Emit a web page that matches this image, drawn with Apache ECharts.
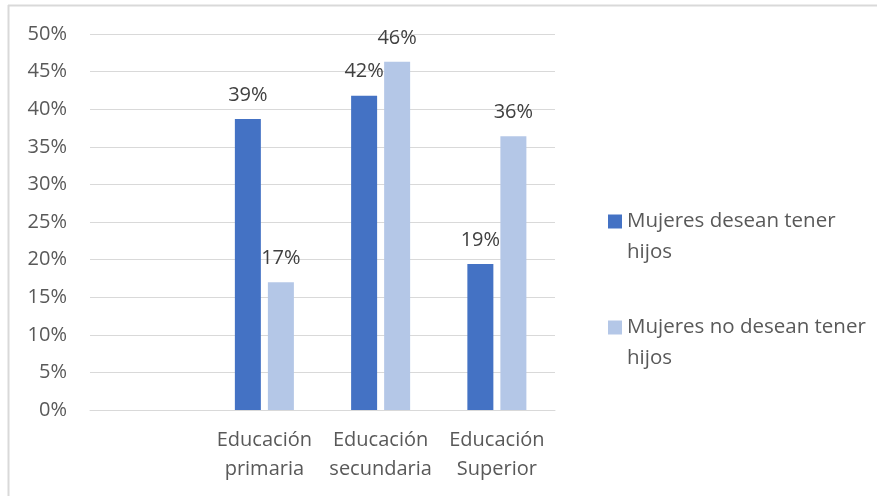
<!DOCTYPE html>
<html><head><meta charset="utf-8">
<script src="https://cdn.jsdelivr.net/npm/echarts@6/dist/echarts.min.js"></script>
<style>html,body{margin:0;padding:0;background:#fff}#c{width:877px;height:496px}</style>
</head><body><div id="c"></div>
<script>
var categories = ['', 'Educación\nprimaria', 'Educación\nsecundaria', 'Educación\nSuperior'];
var seriesNames = ['Mujeres desean tener hijos', 'Mujeres no desean tener hijos'];
var legendLabels = ['Mujeres desean tener\nhijos', 'Mujeres no desean tener\nhijos'];
var desean = [null, 0.387, 0.418, 0.194];
var noDesean = [null, 0.170, 0.463, 0.364];
var yTicks = [0, 0.05, 0.10, 0.15, 0.20, 0.25, 0.30, 0.35, 0.40, 0.45, 0.50];

var FONT = 'Open Sans';
var chart = echarts.init(document.getElementById('c'));
var lbl = {
  show: true, position: 'top', distance: 14,
  fontFamily: FONT, fontSize: 20, color: '#404040',
  formatter: function (p) { return Math.round(p.value * 100) + '%'; }
};
chart.setOption({
  animation: false,
  graphic: [
    { type: 'line', shape: { x1: 8, y1: 5.5, x2: 877, y2: 5.5 }, style: { stroke: '#D9D9D9', lineWidth: 2 } },
    { type: 'line', shape: { x1: 8.5, y1: 5, x2: 8.5, y2: 496 }, style: { stroke: '#D9D9D9', lineWidth: 2 } }
  ],
  grid: { left: 90, right: 322, top: 34, bottom: 86 },
  legend: {
    orient: 'vertical', left: 603, top: 170, itemWidth: 14, itemHeight: 14, itemGap: 13,
    icon: 'rect',
    textStyle: { fontFamily: FONT, fontSize: 20.5, color: '#595959', lineHeight: 31 },
    formatter: function (n) { return '\u00a0\n' + legendLabels[seriesNames.indexOf(n)]; },
    data: seriesNames
  },
  xAxis: {
    type: 'category', data: categories,
    axisLine: { lineStyle: { color: '#D9D9D9', width: 1 } },
    axisTick: { show: false },
    axisLabel: { fontFamily: FONT, fontSize: 20, color: '#595959', lineHeight: 29, margin: 16, interval: 0 }
  },
  yAxis: {
    type: 'value', min: 0, max: 0.5, interval: 0.05,
    axisLine: { show: false }, axisTick: { show: false },
    splitLine: { lineStyle: { color: '#D9D9D9', width: 1 } },
    axisLabel: {
      fontFamily: FONT, fontSize: 20, color: '#595959', margin: 23,
      formatter: function (v) {
        var i = yTicks.findIndex(function (t) { return Math.abs(t - v) < 1e-9; });
        return Math.round(yTicks[i] * 100) + '%';
      }
    }
  },
  series: [
    { name: seriesNames[0], type: 'bar', data: desean, barWidth: 26, barGap: '27%',
      itemStyle: { color: '#4472C4' }, label: lbl },
    { name: seriesNames[1], type: 'bar', data: noDesean, barWidth: 26,
      itemStyle: { color: '#B4C7E7' }, label: lbl }
  ]
});
</script></body></html>
